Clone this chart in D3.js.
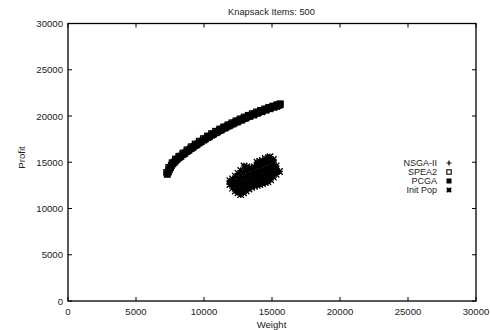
<!DOCTYPE html>
<html><head><meta charset="utf-8">
<script src="https://cdn.jsdelivr.net/npm/d3@7"></script>
<style>
html,body{margin:0;padding:0;background:#fff;}
svg{display:block;font-family:"Liberation Sans",Arial,sans-serif;}
</style></head>
<body><svg id="c" width="491" height="330"></svg>
<script>
const title = "Knapsack Items: 500";
const xLabel = "Weight";
const yLabel = "Profit";
const xTicks = [0,5000,10000,15000,20000,25000,30000];
const yTicks = [0,5000,10000,15000,20000,25000,30000];
const seriesNames = ["NSGA-II","SPEA2","PCGA","Init Pop"];

const nsga2 = [[7350,13700],[7550,14250],[7750,14700],[8050,15100],[8450,15550],[8750,15900],[9050,16250],[9350,16550],[9650,16850],[9950,17150],[10250,17430],[10550,17680],[10850,17950],[11150,18200],[11450,18430],[11750,18660],[12050,18880],[12350,19100],[12650,19300],[12950,19500],[13250,19700],[13550,19880],[13850,20060],[14150,20240],[14450,20400],[14750,20560],[15050,20720],[15350,20870],[15550,20980]];

const spea2 = [[7250,13900],[7400,14450],[7650,14950],[7900,15350],[8150,15650],[8450,16000],[8750,16350],[9050,16680],[9350,16980],[9650,17280],[9950,17560],[10250,17840],[10550,18100],[10850,18360],[11150,18600],[11450,18830],[11750,19050],[12050,19270],[12350,19480],[12650,19690],[12950,19890],[13250,20080],[13550,20260],[13850,20440],[14150,20610],[14450,20770],[14750,20930],[15050,21080],[15350,21220],[15600,21330]];

const pcga = [[7300,13700],[7380,13950],[7450,14200],[7530,14430],[7600,14650],[7700,14830],[7800,15000],[7900,15150],[8000,15300],[8150,15480],[8300,15650],[8450,15830],[8600,16000],[8750,16170],[8900,16330],[9050,16490],[9200,16650],[9350,16800],[9500,16950],[9650,17100],[9800,17250],[9950,17390],[10100,17530],[10250,17670],[10400,17800],[10550,17930],[10700,18060],[10850,18190],[11000,18320],[11150,18440],[11300,18560],[11450,18680],[11600,18790],[11750,18900],[11900,19010],[12050,19120],[12200,19230],[12350,19340],[12500,19440],[12650,19540],[12800,19640],[12950,19740],[13100,19840],[13250,19940],[13400,20030],[13550,20120],[13700,20210],[13850,20300],[14000,20390],[14150,20480],[14300,20560],[14450,20640],[14600,20720],[14750,20800],[14900,20880],[15050,20960],[15200,21030],[15330,21090],[15450,21150],[15530,21200],[15600,21250]];

const initPop = [
[11900,12600],[11900,13000],
[12100,12200],[12100,12700],[12100,13200],
[12300,11900],[12300,12400],[12300,12900],[12300,13500],
[12500,11700],[12500,12200],[12500,12700],[12500,13200],[12500,13800],
[12700,11500],[12700,12000],[12700,12500],[12700,13000],[12700,13500],[12700,14100],
[12900,11700],[12900,12200],[12900,12700],[12900,13300],[12900,13900],[12950,14600],
[13100,11900],[13100,12400],[13100,12900],[13100,13500],[13100,14100],[13150,14500],
[13300,12100],[13300,12600],[13300,13100],[13300,13700],[13300,14300],
[13500,12300],[13500,12800],[13500,13300],[13500,13800],[13500,14400],
[13700,12400],[13700,12900],[13700,13400],[13700,13900],[13700,14500],
[13900,12500],[13900,13000],[13900,13500],[13900,14000],[13900,14600],[13900,15000],
[14100,12600],[14100,13100],[14100,13600],[14100,14100],[14100,14700],[14100,15100],
[14300,12700],[14300,13200],[14300,13700],[14300,14200],[14300,14800],[14300,15200],
[14500,12800],[14500,13300],[14500,13800],[14500,14300],[14500,14900],[14500,15400],
[14700,12900],[14700,13400],[14700,13900],[14700,14400],[14700,15000],[14750,15500],
[14900,13100],[14900,13600],[14900,14100],[14900,14600],[14900,15200],[14850,15600],
[15100,13400],[15100,13900],[15100,14400],[15100,14900],[15100,15300],
[15300,13700],[15300,14200],[15300,14600],
[15550,14000]];

const svg = d3.select("#c");
const L=68, R=476, T=23.5, B=301;
const x = d3.scaleLinear().domain([0,30000]).range([L,R]);
const y = d3.scaleLinear().domain([0,30000]).range([B,T]);

svg.append("rect").attr("x",L).attr("y",T).attr("width",R-L).attr("height",B-T)
  .attr("fill","none").attr("stroke","#000").attr("stroke-width",1.3);

const tk = 4;
const g = svg.append("g").attr("stroke","#000").attr("stroke-width",1);
xTicks.forEach(v=>{
  g.append("line").attr("x1",x(v)).attr("x2",x(v)).attr("y1",B).attr("y2",B-tk);
  g.append("line").attr("x1",x(v)).attr("x2",x(v)).attr("y1",T).attr("y2",T+tk);
});
yTicks.forEach(v=>{
  g.append("line").attr("x1",L).attr("x2",L+tk).attr("y1",y(v)).attr("y2",y(v));
  g.append("line").attr("x1",R).attr("x2",R-tk).attr("y1",y(v)).attr("y2",y(v));
});

const fs = "9.6px";
svg.selectAll("text.xt").data(xTicks).enter().append("text")
  .attr("x",d=>x(d)).attr("y",315).attr("text-anchor","middle")
  .attr("font-size",fs).attr("fill","#222").text(d=>d);
svg.selectAll("text.yt").data(yTicks).enter().append("text")
  .attr("x",63).attr("y",d=>y(d)+3.5).attr("text-anchor","end")
  .attr("font-size",fs).attr("fill","#222").text(d=>d);

svg.append("text").attr("x",271.5).attr("y",15).attr("text-anchor","middle")
  .attr("font-size","9.3px").attr("fill","#222").text(title);
svg.append("text").attr("x",271.5).attr("y",327.5).attr("text-anchor","middle")
  .attr("font-size","9.6px").attr("fill","#222").text(xLabel);
svg.append("text").attr("transform","translate(25,157.5) rotate(-90)").attr("text-anchor","middle")
  .attr("font-size","9.6px").attr("fill","#222").text(yLabel);

function plus(sel,s){ const h=s/2;
  sel.append("path").attr("d",`M${-h},0H${h}M0,${-h}V${h}`).attr("stroke","#000").attr("stroke-width",1.2).attr("fill","none"); }
function openSq(sel,s){ const h=s/2;
  sel.append("rect").attr("x",-h).attr("y",-h).attr("width",s).attr("height",s).attr("fill","none").attr("stroke","#000").attr("stroke-width",1.2); }
function fillSq(sel,s){ const h=s/2;
  sel.append("rect").attr("x",-h).attr("y",-h).attr("width",s).attr("height",s).attr("fill","#000"); }
function star(sel,s){ const h=s/2;
  sel.append("path").attr("d",`M${-h},0H${h}M0,${-h}V${h}M${-h},${-h}L${h},${h}M${-h},${h}L${h},${-h}`).attr("stroke","#000").attr("stroke-width",1.3).attr("fill","none"); }

const markers = [plus, openSq, fillSq, star];
const sizes = [6,5.5,7,6.5];
const data = [nsga2, spea2, pcga, initPop];

data.forEach((arr,i)=>{
  const gg = svg.append("g");
  arr.forEach(d=>{
    const m = gg.append("g").attr("transform",`translate(${x(d[0])},${y(d[1])})`);
    markers[i](m,sizes[i]);
  });
});

const legY = [163,172,181,190];
seriesNames.forEach((n,i)=>{
  svg.append("text").attr("x",437).attr("y",legY[i]+3.2).attr("text-anchor","end")
    .attr("font-size","9px").attr("fill","#222").text(n);
  const m = svg.append("g").attr("transform",`translate(449,${legY[i]})`);
  if(i===1){
    m.append("rect").attr("x",-2.2).attr("y",-2.2).attr("width",4.4).attr("height",4.4).attr("fill","#fff").attr("stroke","#000").attr("stroke-width",1.1);
  } else {
    markers[i](m,[5,4.5,5,4.5][i]);
  }
});
</script></body></html>
